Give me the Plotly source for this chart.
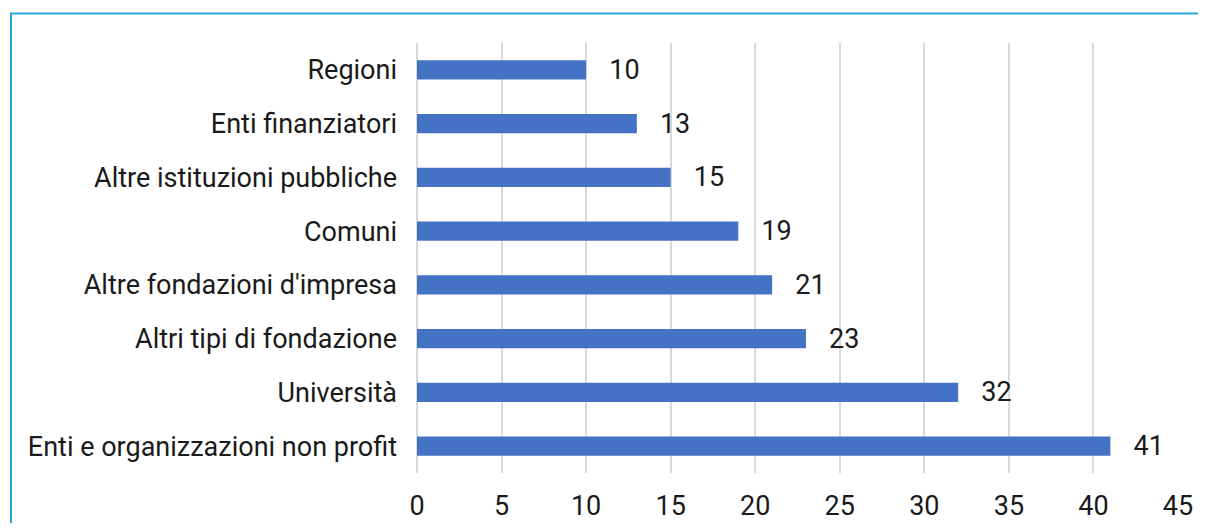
import plotly.graph_objects as go

categories = [
    "Regioni",
    "Enti finanziatori",
    "Altre istituzioni pubbliche",
    "Comuni",
    "Altre fondazioni d'impresa",
    "Altri tipi di fondazione",
    "Università",
    "Enti e organizzazioni non profit",
]
values = [10, 13, 15, 19, 21, 23, 32, 41]
x_ticks = [0, 5, 10, 15, 20, 25, 30, 35, 40, 45]

font_family = "Roboto, Noto Sans, sans-serif"
font_size = 27

# the page body has an 8px margin, so the figure is drawn 8px smaller
# and every pixel position below is shifted by -8
fig = go.Figure(go.Bar(
    x=values,
    y=categories,
    orientation="h",
    marker=dict(color="#4472C4", line=dict(width=0)),
    width=0.36,
    text=values,
    texttemplate="   %{x}",
    textposition="outside",
    constraintext="none",
    textfont=dict(size=font_size, color="#1a1a1a", family=font_family),
    cliponaxis=False,
))

fig.update_layout(
    width=1190,
    height=515,
    margin=dict(l=409, r=20, t=35, b=50),
    paper_bgcolor="white",
    plot_bgcolor="white",
    showlegend=False,
    font=dict(family=font_family, size=font_size, color="#1a1a1a"),
    xaxis=dict(
        range=[0, 45],
        tickvals=x_ticks,
        showgrid=True,
        gridcolor="#d9d9d9",
        gridwidth=2,
        zeroline=True,
        zerolinecolor="#d9d9d9",
        zerolinewidth=2,
        showline=False,
        ticks="",
        ticklabelstandoff=14,
        automargin=False,
    ),
    yaxis=dict(
        autorange="reversed",
        showgrid=False,
        ticks="",
        ticklabelstandoff=19,
        automargin=False,
    ),
    shapes=[dict(
        type="rect",
        xref="paper", yref="paper",
        x0=(3 - 409) / 761, x1=1.2,
        y0=-0.3, y1=(465 - 5.5) / 430,
        line=dict(color="#29a3e0", width=2),
        fillcolor="rgba(0,0,0,0)",
        layer="below",
    )],
)

fig.write_html("out.html")
